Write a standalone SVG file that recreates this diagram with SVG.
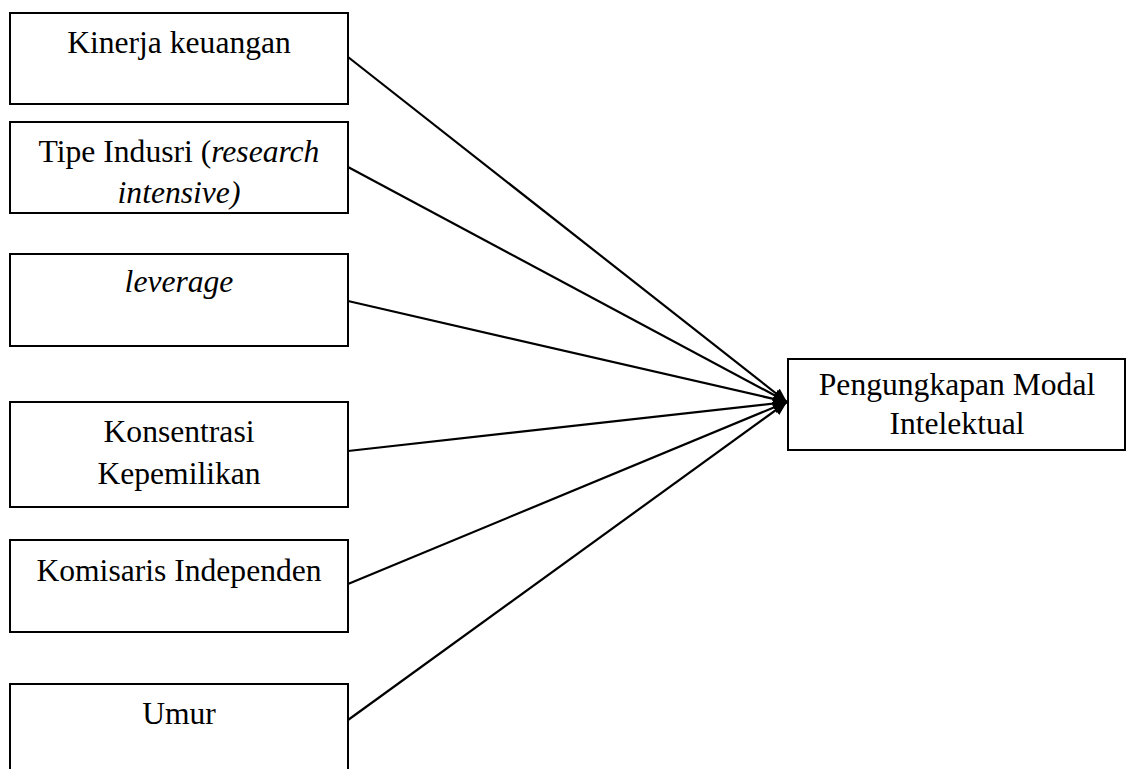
<svg xmlns="http://www.w3.org/2000/svg" width="1127" height="769" viewBox="0 0 1127 769">
<style>
.box{fill:#fff;stroke:#000;stroke-width:2}
.t{font-family:"Liberation Serif","Times New Roman",serif;font-size:31.6px;fill:#000;text-anchor:middle}
.i{font-style:italic}
.c{stroke:#000;stroke-width:2.2;fill:none;marker-end:url(#ah)}
</style>
<defs>
<marker id="ah" markerUnits="userSpaceOnUse" markerWidth="16" markerHeight="12" refX="14" refY="6" orient="auto">
<path d="M0,0 L14,6 L0,12 Z" fill="#000"/>
</marker>
</defs>
<rect width="1127" height="769" fill="#fff"/>
<g id="connectors">
<line class="c" x1="348" y1="57" x2="787" y2="402"/>
<line class="c" x1="348" y1="167" x2="787" y2="402"/>
<line class="c" x1="348" y1="301" x2="787" y2="402"/>
<line class="c" x1="348" y1="451" x2="787" y2="402"/>
<line class="c" x1="348" y1="584" x2="787" y2="402"/>
<line class="c" x1="348" y1="720" x2="787" y2="402"/>
</g>
<g id="kinerja">
<rect class="box" x="10" y="13" width="338" height="91"/>
<text class="t" x="179" y="53">Kinerja keuangan</text>
</g>
<g id="tipe">
<rect class="box" x="10" y="122" width="338" height="91"/>
<text class="t" x="179" y="162">Tipe Indusri (<tspan class="i">research</tspan></text>
<text class="t i" x="179" y="203">intensive)</text>
</g>
<g id="leverage">
<rect class="box" x="10" y="254" width="338" height="92"/>
<text class="t i" x="179" y="292">leverage</text>
</g>
<g id="konsentrasi">
<rect class="box" x="10" y="402" width="338" height="105"/>
<text class="t" x="179" y="442">Konsentrasi</text>
<text class="t" x="179" y="484">Kepemilikan</text>
</g>
<g id="komisaris">
<rect class="box" x="10" y="540" width="338" height="92"/>
<text class="t" x="179" y="581">Komisaris Independen</text>
</g>
<g id="umur">
<rect class="box" x="10" y="684" width="338" height="100"/>
<text class="t" x="179" y="724">Umur</text>
</g>
<g id="pengungkapan">
<rect class="box" x="788" y="359" width="337" height="91"/>
<text class="t" x="957" y="395">Pengungkapan Modal</text>
<text class="t" x="957" y="434">Intelektual</text>
</g>
</svg>
